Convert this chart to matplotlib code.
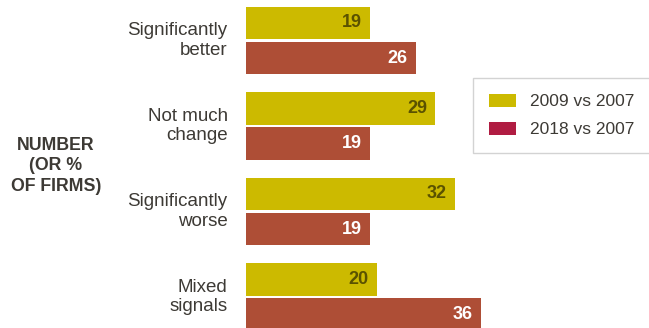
"""Horizontal grouped bars: firm outlook vs 2007."""

import matplotlib.pyplot as plt
import numpy as np
from matplotlib.patches import Patch

categories = ["Significantly\nbetter", "Not much\nchange", "Significantly\nworse", "Mixed\nsignals"]
values_2009 = [19, 29, 32, 20]
values_2018 = [26, 19, 19, 36]
series_labels = ["2009 vs 2007", "2018 vs 2007"]

YELLOW = "#CCBA00"
RED = "#AE4E36"
LEGEND_RED = "#B01C42"
TEXT = "#3D3A35"

plt.rcParams.update({"font.family": ["Liberation Sans", "DejaVu Sans"]})

fig = plt.figure(figsize=(6.49, 3.28), dpi=100)
ax = fig.add_axes([246 / 649, 0, 1 - 246 / 649, 1])

positions = np.arange(len(categories))
offset = 0.205
bar_height = 0.375
ax.barh(positions - offset, values_2009, height=bar_height, color=YELLOW)
ax.barh(positions + offset, values_2018, height=bar_height, color=RED)

for pos, v in zip(positions, values_2009):
    ax.text(v - 1.3, pos - offset, str(v), ha="right", va="center",
            fontsize=13, fontweight="bold", color="#5A5200")
for pos, v in zip(positions, values_2018):
    ax.text(v - 1.3, pos + offset, str(v), ha="right", va="center",
            fontsize=13, fontweight="bold", color="white")

ax.set_xlim(0, (649 - 246) / 6.53)
ax.set_ylim((328 - 40.5) / 85.5, -40.5 / 85.5)
ax.set_axis_off()

for pos, label in zip(positions, categories):
    ax.text(-2.8, pos, label, ha="right", va="center", fontsize=13.5,
            color=TEXT, linespacing=1.2)

fig.text(56 / 649, 1 - 166 / 328, "NUMBER\n(OR %\nOF FIRMS)", ha="center", va="center",
         fontsize=12.8, fontweight="bold", color=TEXT, linespacing=1.3)

handles = [Patch(facecolor=YELLOW), Patch(facecolor=LEGEND_RED)]
legend = fig.legend(handles, series_labels, loc="upper left",
                    bbox_to_anchor=(473 / 649, 1 - 78 / 328), borderaxespad=0,
                    fontsize=12.5, frameon=True, fancybox=False, edgecolor="#C8C8C8",
                    handlelength=1.55, handleheight=0.75, handletextpad=0.8,
                    labelspacing=0.72, borderpad=0.92)
for t in legend.get_texts():
    t.set_color(TEXT)
legend.get_frame().set_linewidth(1.0)

fig.savefig("out.png", dpi=100)
